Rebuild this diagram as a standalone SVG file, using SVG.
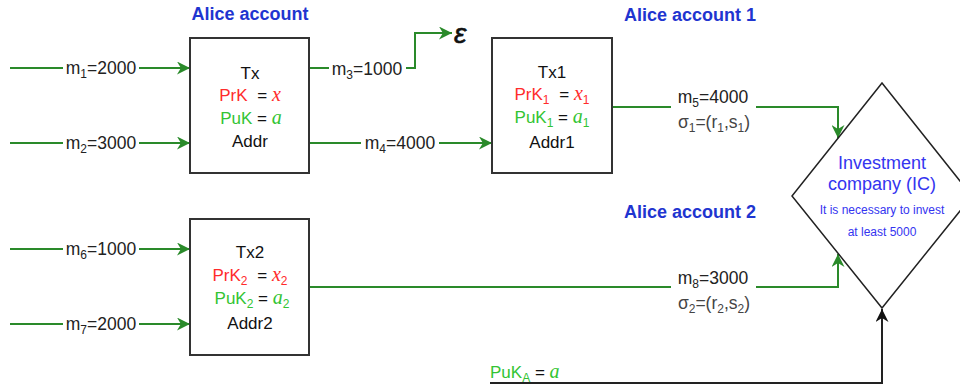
<svg xmlns="http://www.w3.org/2000/svg" width="960" height="391" viewBox="0 0 960 391">
<style>
text{font-family:"Liberation Sans",Arial,sans-serif;}
.box{fill:#fff;stroke:#333;stroke-width:2;}
.t{font-size:17px;fill:#111;text-anchor:middle;}
.red{fill:#ff2b2b;}
.grn{fill:#33c433;}
.it{font-family:"Liberation Serif","Times New Roman",serif;font-style:italic;font-size:20px;}
.title{font-size:18px;font-weight:bold;fill:#1f35d0;text-anchor:middle;}
.edge{fill:none;stroke:#2a8a2a;stroke-width:2;}
.edgek{fill:none;stroke:#222;stroke-width:2;}
.lbl{font-size:17.5px;fill:#222;text-anchor:middle;}
.sig{font-size:17.5px;fill:#444;text-anchor:middle;}
.bg{fill:#fff;}
.ic{fill:#3434f0;text-anchor:middle;}
</style>
<defs>
<marker id="ag" viewBox="0 0 10 10" refX="10" refY="5" markerWidth="13" markerHeight="13" markerUnits="userSpaceOnUse" orient="auto">
<path d="M0,0 L10,5 L0,10 L3,5 z" fill="#2a8a2a"/>
</marker>
<marker id="ak" viewBox="0 0 10 10" refX="10" refY="5" markerWidth="13" markerHeight="13" markerUnits="userSpaceOnUse" orient="auto">
<path d="M0,0 L10,5 L0,10 L3,5 z" fill="#111"/>
</marker>
</defs>
<rect width="960" height="391" fill="#fff"/>

<g id="titles">
<text class="title" x="250" y="20">Alice account</text>
<text class="title" x="690" y="21">Alice account 1</text>
<text class="title" x="690" y="218">Alice account 2</text>
</g>

<g id="connectors">
<path class="edge" d="M10,68 H190" marker-end="url(#ag)"/>
<path class="edge" d="M10,143 H190" marker-end="url(#ag)"/>
<path class="edge" d="M10,249 H190" marker-end="url(#ag)"/>
<path class="edge" d="M10,324 H190" marker-end="url(#ag)"/>
<path class="edge" d="M309,68 H415 V33 H452" marker-end="url(#ag)"/>
<path class="edge" d="M309,143 H492" marker-end="url(#ag)"/>
<path class="edge" d="M612,107 H838 V138" marker-end="url(#ag)"/>
<path class="edge" d="M309,287 H838 V254" marker-end="url(#ag)"/>
<path class="edgek" d="M490,383 H882 V309" marker-end="url(#ak)"/>

<rect class="bg" x="63" y="59" width="76" height="19"/>
<text class="lbl" x="101" y="74">m<tspan font-size="12" dy="4">1</tspan><tspan dy="-4">=2000</tspan></text>
<rect class="bg" x="63" y="134" width="76" height="19"/>
<text class="lbl" x="101" y="149">m<tspan font-size="12" dy="4">2</tspan><tspan dy="-4">=3000</tspan></text>
<rect class="bg" x="63" y="240" width="76" height="19"/>
<text class="lbl" x="101" y="255">m<tspan font-size="12" dy="4">6</tspan><tspan dy="-4">=1000</tspan></text>
<rect class="bg" x="63" y="315" width="76" height="19"/>
<text class="lbl" x="101" y="330">m<tspan font-size="12" dy="4">7</tspan><tspan dy="-4">=2000</tspan></text>
<rect class="bg" x="329" y="59" width="77" height="19"/>
<text class="lbl" x="367" y="75">m<tspan font-size="12" dy="4">3</tspan><tspan dy="-4">=1000</tspan></text>
<rect class="bg" x="361" y="134" width="78" height="19"/>
<text class="lbl" x="400" y="149">m<tspan font-size="12" dy="4">4</tspan><tspan dy="-4">=4000</tspan></text>
<text x="454" y="43" font-size="28" font-style="italic" fill="#111" stroke="#111" stroke-width="0.6">ε</text>

<rect class="bg" x="671" y="96" width="85" height="20"/>
<text class="lbl" x="713" y="103">m<tspan font-size="12" dy="4">5</tspan><tspan dy="-4">=4000</tspan></text>
<text class="sig" x="714" y="128">σ<tspan font-size="12" dy="4">1</tspan><tspan dy="-4">=(r</tspan><tspan font-size="12" dy="4">1</tspan><tspan dy="-4">,s</tspan><tspan font-size="12" dy="4">1</tspan><tspan dy="-4">)</tspan></text>

<rect class="bg" x="671" y="276" width="85" height="20"/>
<text class="lbl" x="713" y="284">m<tspan font-size="12" dy="4">8</tspan><tspan dy="-4">=3000</tspan></text>
<text class="sig" x="714" y="309">σ<tspan font-size="12" dy="4">2</tspan><tspan dy="-4">=(r</tspan><tspan font-size="12" dy="4">2</tspan><tspan dy="-4">,s</tspan><tspan font-size="12" dy="4">2</tspan><tspan dy="-4">)</tspan></text>

<text x="490" y="378" font-size="17" fill="#111"><tspan class="grn">PuK</tspan><tspan class="grn" font-size="12" dy="4">A</tspan><tspan dy="-4"> = </tspan><tspan class="grn it">a</tspan></text>
</g>

<g id="tx">
<rect class="box" x="190" y="38" width="119" height="135"/>
<text class="t" x="250" y="79">Tx</text>
<text class="t" x="250" y="101"><tspan class="red">PrK</tspan><tspan dx="5"> = </tspan><tspan class="red it">x</tspan></text>
<text class="t" x="251" y="124"><tspan class="grn">PuK</tspan> = <tspan class="grn it">a</tspan></text>
<text class="t" x="250" y="147">Addr</text>
</g>

<g id="tx1">
<rect class="box" x="492" y="38" width="120" height="135"/>
<text class="t" x="552" y="78">Tx1</text>
<text class="t" x="552" y="100"><tspan class="red">PrK</tspan><tspan class="red" font-size="12" dy="4">1</tspan><tspan dy="-4" dx="5"> = </tspan><tspan class="red it">x</tspan><tspan class="red" font-size="12" dy="4">1</tspan></text>
<text class="t" x="552" y="123"><tspan class="grn">PuK</tspan><tspan class="grn" font-size="12" dy="4">1</tspan><tspan dy="-4"> = </tspan><tspan class="grn it">a</tspan><tspan class="grn" font-size="12" dy="4">1</tspan></text>
<text class="t" x="552" y="148">Addr1</text>
</g>

<g id="tx2">
<rect class="box" x="190" y="219" width="119" height="136"/>
<text class="t" x="250" y="258">Tx2</text>
<text class="t" x="250" y="281"><tspan class="red">PrK</tspan><tspan class="red" font-size="12" dy="4">2</tspan><tspan dy="-4" dx="5"> = </tspan><tspan class="red it">x</tspan><tspan class="red" font-size="12" dy="4">2</tspan></text>
<text class="t" x="252" y="304"><tspan class="grn">PuK</tspan><tspan class="grn" font-size="12" dy="4">2</tspan><tspan dy="-4"> = </tspan><tspan class="grn it">a</tspan><tspan class="grn" font-size="12" dy="4">2</tspan></text>
<text class="t" x="250" y="329">Addr2</text>
</g>

<g id="ic">
<path d="M882,83 L972,196 L882,308 L792,196 Z" fill="#fff" stroke="#222" stroke-width="1.5"/>
<text class="ic" x="882" y="169" font-size="18">Investment</text>
<text class="ic" x="882" y="190" font-size="18">company (IC)</text>
<text class="ic" x="882" y="214" font-size="12">It is necessary to invest</text>
<text class="ic" x="882" y="236" font-size="12">at least 5000</text>
</g>
</svg>
